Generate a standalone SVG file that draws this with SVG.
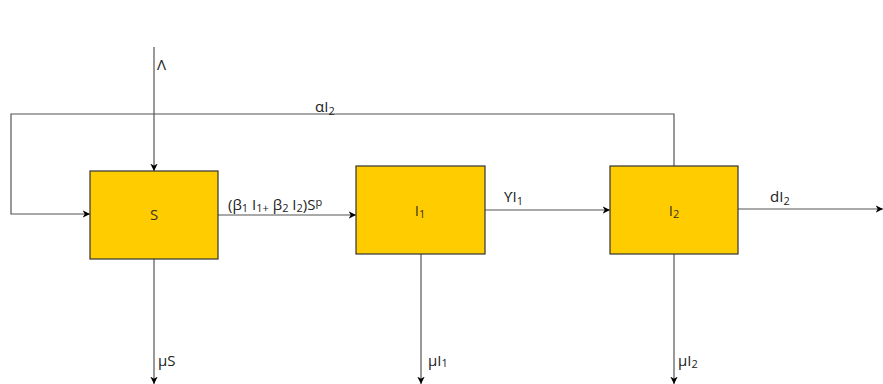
<svg xmlns="http://www.w3.org/2000/svg" width="883" height="384" viewBox="0 0 883 384">
  <defs>
    <marker id="arr" viewBox="0 0 10 10" refX="10" refY="5" markerWidth="7.5" markerHeight="7.5" orient="auto" markerUnits="userSpaceOnUse">
      <path d="M0,0 L10,5 L0,10 L3,5 Z" fill="#000"/>
    </marker>
    <style>
      .box { fill: #FFCC00; stroke: #333333; stroke-width: 1.2; }
      .lbl { font-family: "Open Sans", "Liberation Sans", sans-serif; font-size: 15px; fill: #222222; }
      .nlbl { font-family: "Open Sans", "Liberation Sans", sans-serif; font-size: 15px; fill: #3a3320; text-anchor: middle; }
      .edge { fill: none; stroke: #555555; stroke-width: 1.2; }
      .arrow { marker-end: url(#arr); }
    </style>
  </defs>
  <rect width="883" height="384" fill="#ffffff"/>

  <g id="connectors">
    <path class="edge arrow" d="M154,47 L154,171"/>
    <path class="edge arrow" d="M674,166 L674,114 L11,114 L11,214 L90,214"/>
    <path class="edge arrow" d="M218,215 L356,215"/>
    <path class="edge arrow" d="M485,210 L610,210"/>
    <path class="edge arrow" d="M738,209 L883,209"/>
    <path class="edge arrow" d="M154,259 L154,384"/>
    <path class="edge arrow" d="M421,254 L421,384"/>
    <path class="edge arrow" d="M674,254 L674,384"/>
  </g>

  <g id="edge-labels">
    <text class="lbl" x="157" y="70">Λ</text>
    <text class="lbl" x="315" y="112">α<tspan>I</tspan><tspan font-size="11" dy="3">2</tspan></text>
    <text class="lbl" x="228" y="210">(β<tspan font-size="11" dy="2">1</tspan><tspan dy="-2"> I</tspan><tspan font-size="11" dy="2">1+</tspan><tspan dy="-2"> β</tspan><tspan font-size="11" dy="2">2</tspan><tspan dy="-2"> I</tspan><tspan font-size="11" dy="2">2</tspan><tspan dy="-2">)S</tspan><tspan font-size="11" dy="-4">p</tspan></text>
    <text class="lbl" x="504" y="202">ϒI<tspan font-size="11" dy="3">1</tspan></text>
    <text class="lbl" x="770" y="202">dI<tspan font-size="11" dy="3">2</tspan></text>
    <text class="lbl" x="158" y="366">μS</text>
    <text class="lbl" x="428" y="366">μI<tspan font-size="11" dy="1">1</tspan></text>
    <text class="lbl" x="678" y="366">μI<tspan font-size="11" dy="2">2</tspan></text>
  </g>

  <g id="node-S">
    <rect class="box" x="90" y="171" width="128" height="88"/>
    <text class="nlbl" x="154" y="220">S</text>
  </g>
  <g id="node-I1">
    <rect class="box" x="356" y="166" width="129" height="88"/>
    <text class="nlbl" x="420" y="216">I<tspan font-size="11" dy="2">1</tspan></text>
  </g>
  <g id="node-I2">
    <rect class="box" x="610" y="166" width="128" height="88"/>
    <text class="nlbl" x="674" y="216">I<tspan font-size="11" dy="2">2</tspan></text>
  </g>
</svg>
